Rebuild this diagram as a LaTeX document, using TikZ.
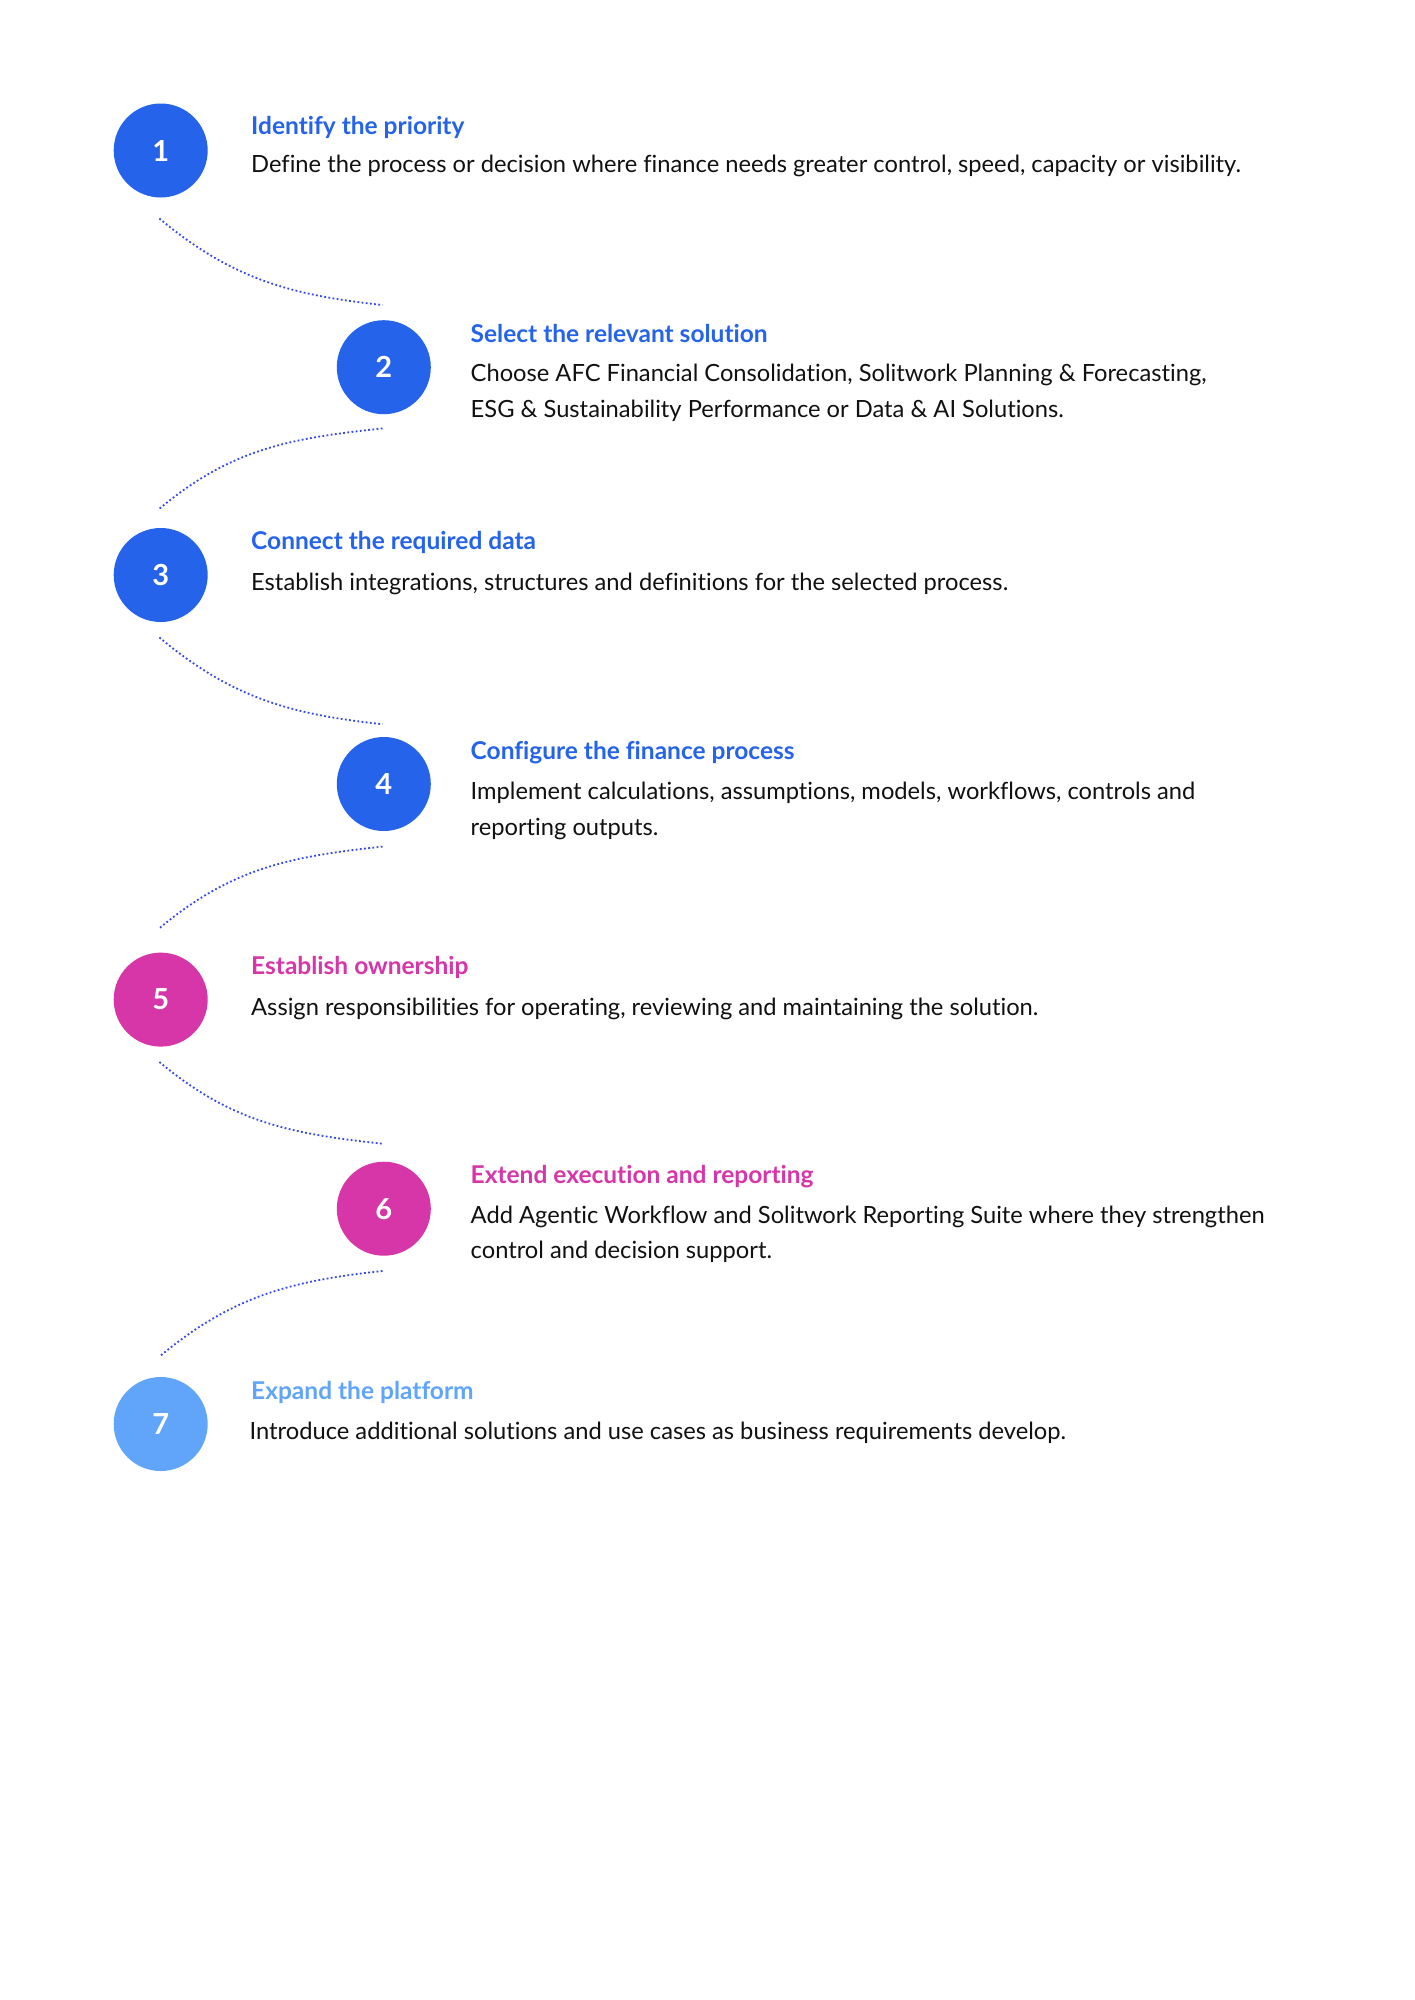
\documentclass[tikz,border=0pt]{standalone}
\usepackage{fontspec}
\setmainfont[Ligatures=NoCommon]{Lato}
\definecolor{stepblue}{HTML}{2563EB}
\definecolor{steppink}{HTML}{D636A8}
\definecolor{steplight}{HTML}{60A5FA}
\definecolor{dotblue}{HTML}{3348F0}
\definecolor{bodyink}{HTML}{111111}
\begin{document}
\begin{tikzpicture}[x=1pt,y=-1pt,
  stepcirc/.style={circle, minimum size=94pt, inner sep=0pt, text=white,
    font=\fontsize{29}{29}\selectfont\bfseries},
  ttl/.style={anchor=base west, inner sep=0pt, font=\fontsize{24.5}{29}\selectfont\bfseries},
  bodytxt/.style={anchor=base west, inner sep=0pt, align=left, text=bodyink,
    font=\fontsize{23.7}{35.8}\selectfont},
  link/.style={dotblue, line width=1.8pt, dash pattern=on 1.8pt off 2.4pt}]
\useasboundingbox (0,0) rectangle (1414,2000);
\fill[white] (0,0) rectangle (1414,2000);

% circles
\node[stepcirc, fill=stepblue]  (c1) at (160.7,150.5) {1};
\node[stepcirc, fill=stepblue]  (c2) at (383.8,367.2) {2};
\node[stepcirc, fill=stepblue]  (c3) at (160.7,575) {3};
\node[stepcirc, fill=stepblue]  (c4) at (383.8,784) {4};
\node[stepcirc, fill=steppink]  (c5) at (160.7,999.6) {5};
\node[stepcirc, fill=steppink]  (c6) at (383.8,1208.7) {6};
\node[stepcirc, fill=steplight] (c7) at (160.7,1424) {7};

% titles and texts (multi-line nodes: base = last line)
\node[ttl, text=stepblue] (t1) at (251,134.3) {Identify the priority};
\node[bodytxt] (b1) at (251,172.8) {Define the process or decision where finance needs greater control, speed, capacity or visibility.};

\node[ttl, text=stepblue] (t2) at (470.5,342.3) {Select the relevant solution};
\node[bodytxt] (b2) at (470.5,417.3) {Choose AFC Financial Consolidation, Solitwork Planning \& Forecasting,\\ESG \& Sustainability Performance or Data \& AI Solutions.};

\node[ttl, text=stepblue] (t3) at (251,549.8) {Connect the required data};
\node[bodytxt] (b3) at (251,590.8) {Establish integrations, structures and definitions for the selected process.};

\node[ttl, text=stepblue] (t4) at (470.5,759.3) {Configure the finance process};
\node[bodytxt] (b4) at (470.5,835.3) {Implement calculations, assumptions, models, workflows, controls and\\reporting outputs.};

\node[ttl, text=steppink] (t5) at (251,974.3) {Establish ownership};
\node[bodytxt] (b5) at (251,1015.3) {Assign responsibilities for operating, reviewing and maintaining the solution.};

\node[ttl, text=steppink] (t6) at (470.5,1183.3) {Extend execution and reporting};
\node[bodytxt] (b6) at (470.5,1258.8) {Add Agentic Workflow and Solitwork Reporting Suite where they strengthen\\control and decision support.};

\node[ttl, text=steplight] (t7) at (251,1399.3) {Expand the platform};
\node[bodytxt] (b7) at (249.5,1439.8) {Introduce additional solutions and use cases as business requirements develop.};

% connector end points
\coordinate (s1) at (159.4,218.5);  \coordinate (e1) at (382.5,305);
\coordinate (s2) at (382.5,428.4);  \coordinate (e2) at (159.4,508.7);
\coordinate (s3) at (159.4,637.5);  \coordinate (e3) at (382.5,724.2);
\coordinate (s4) at (382.5,846.6);  \coordinate (e4) at (159.4,928.2);
\coordinate (s5) at (159.4,1062);   \coordinate (e5) at (382.5,1143.7);
\coordinate (s6) at (382.5,1271);   \coordinate (e6) at (159.4,1356.6);

\draw[link] (s1) .. controls +(72,60) and +(-93,-10) .. (e1);
\draw[link] (s2) .. controls +(-93,10) and +(72,-60) .. (e2);
\draw[link] (s3) .. controls +(72,60) and +(-93,-10) .. (e3);
\draw[link] (s4) .. controls +(-93,10) and +(72,-60) .. (e4);
\draw[link] (s5) .. controls +(72,60) and +(-93,-10) .. (e5);
\draw[link] (s6) .. controls +(-93,10) and +(72,-60) .. (e6);
\end{tikzpicture}
\end{document}
